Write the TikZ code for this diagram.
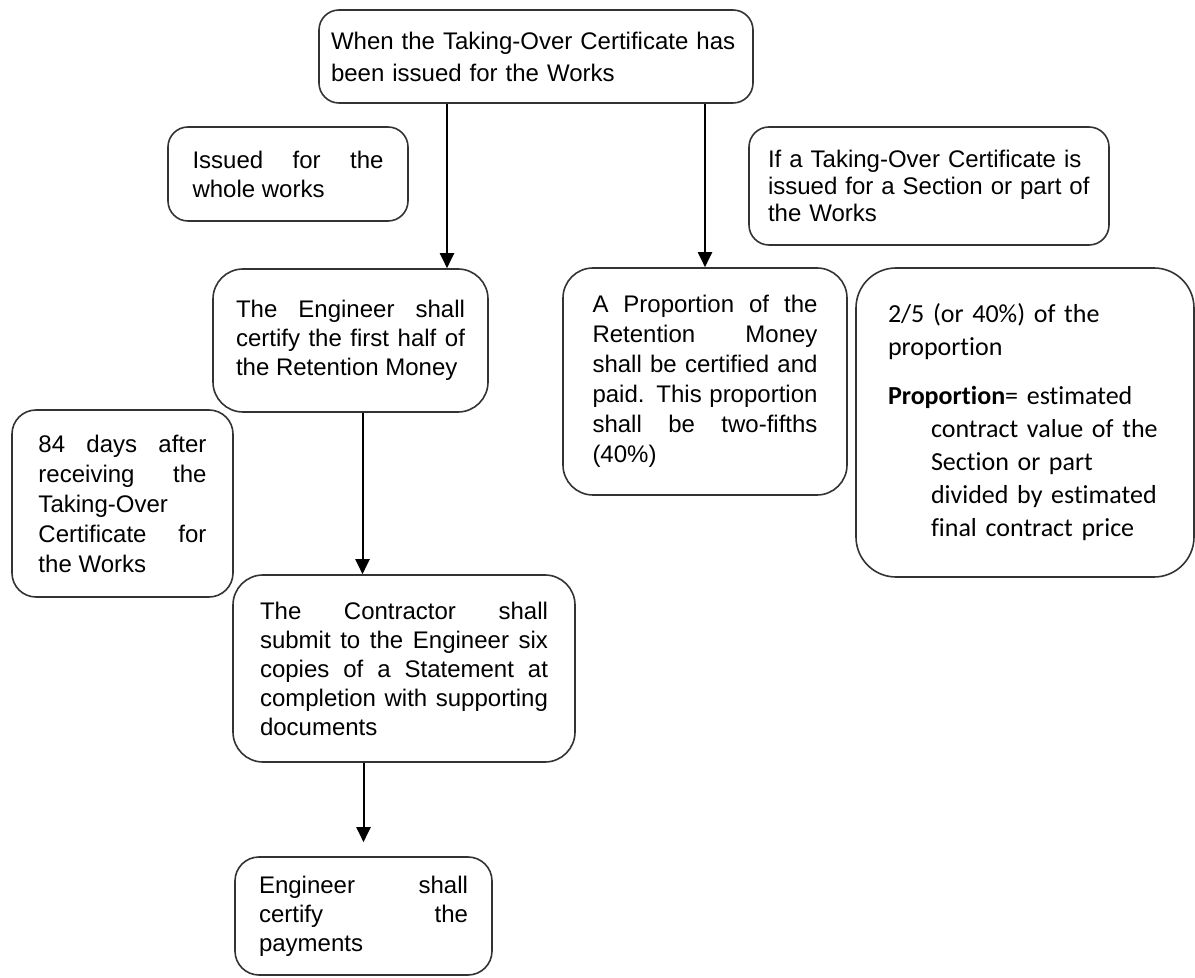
\documentclass[tikz,border=0pt]{standalone}
\usepackage{fontspec}
\setmainfont{Liberation Sans}
\newfontfamily\calibfont[Ligatures=NoCommon]{Carlito}
\usetikzlibrary{positioning}
\usetikzlibrary{arrows.meta}
\hyphenpenalty=10000
\exhyphenpenalty=10000

\begin{document}
\begin{tikzpicture}[x=0.5pt, y=-0.5pt,
  box/.style={draw=black!80, line width=0.8pt, rounded corners=10pt, inner sep=0pt,
              font=\fontsize{12}{14.5}\selectfont, align=justify},
  flow/.style={line width=1pt, -{Triangle[width=7pt,length=7.5pt]}}]
%\draw [help lines] (0,0) grid (1195,978);
\useasboundingbox (0,0) rectangle (1195,978);

\node[box, align=left, text width=205pt, minimum width=217pt, minimum height=46.5pt,
      font=\fontsize{12}{16}\selectfont]                              (taken) at (536,56.5)
  {When the Taking-Over Certificate has\\ been issued for the Works};
\node[box, text width=95.5pt, minimum width=120pt, minimum height=47pt] (whole) at (288,174)
  {Issued for the\linebreak whole works};
\node[box, align=left, text width=161pt, minimum width=180pt, minimum height=59pt,
      font=\fontsize{12}{13.5}\selectfont]                            (section) at (929,186)
  {If a Taking-Over Certificate is\\ issued for a Section or part of\\ the Works};

\node[box, rounded corners=15pt, text width=114.5pt, minimum width=137.5pt,
      minimum height=71.5pt]                                          (firsthalf) at (350.5,340.5)
  {The Engineer shall\linebreak certify the first half of\linebreak the Retention Money};
\node[box, rounded corners=15pt, text width=112.5pt, minimum width=142pt,
      minimum height=113.5pt, font=\fontsize{12}{15}\selectfont]      (portion) at (705,381.5)
  {A Proportion of the\linebreak Retention Money\linebreak shall be certified and\linebreak
   paid. This proportion\linebreak shall be two-fifths\linebreak (40\%)};
\node[box, rounded corners=20pt, align=left, text width=137pt, minimum width=169pt,
      minimum height=154.5pt, font=\calibfont\fontsize{13}{16.5}\selectfont] (formula) at (1025,422.5)
  {2/5 (or 40\%) of the\\ proportion\\[8pt]
   \textbf{Proportion}= estimated\\
   \hspace*{21.5pt}contract value of the\\
   \hspace*{21.5pt}Section or part\\
   \hspace*{21.5pt}divided by estimated\\
   \hspace*{21.5pt}final contract price};

\node[box, rounded corners=12pt, text width=84pt, minimum width=110.5pt,
      minimum height=93.5pt, font=\fontsize{12}{15}\selectfont]       (days) at (122.5,503.5)
  {84 days after\linebreak receiving the\linebreak Taking-Over\newline Certificate for\linebreak the Works};
\node[box, rounded corners=15pt, text width=144pt, minimum width=171pt,
      minimum height=93.5pt]                                          (statement) at (404,668.5)
  {The Contractor shall\linebreak submit to the Engineer six\linebreak copies of a Statement at\linebreak
   completion with supporting\linebreak documents};
\node[box, rounded corners=12pt, text width=104.5pt, minimum width=128.5pt,
      minimum height=59pt]                                            (payments) at (363.5,916)
  {Engineer shall\linebreak certify the\linebreak payments};

% Edges
\draw[flow] ([xshift=-44.5pt]taken.south) -- ([xshift=-44.5pt]taken.south |- firsthalf.north);
\draw[flow] (taken.south -| portion.north) -- (portion.north);
\draw[flow] ([xshift=6pt]firsthalf.south) -- ([xshift=6pt]firsthalf.south |- statement.north);
\draw[flow] (statement.south -| payments.north) -- ([yshift=7pt]payments.north);
\end{tikzpicture}
\end{document}
